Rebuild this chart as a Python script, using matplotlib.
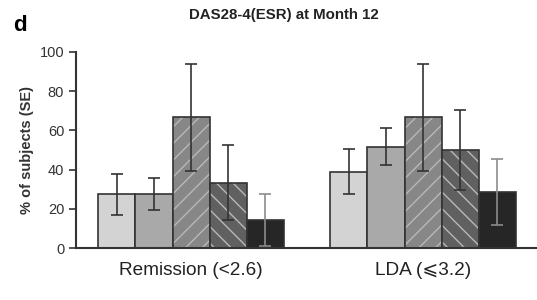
import matplotlib
matplotlib.use("Agg")
import matplotlib.pyplot as plt
import numpy as np

plt.rcParams['font.family'] = ['Liberation Sans', 'DejaVu Sans']
plt.rcParams['hatch.linewidth'] = 1.0

groups = ['Remission (<2.6)', 'LDA (\u2a7d3.2)']
# five treatment arms per group
values = [[27.5, 27.5, 66.7, 33.3, 14.3],
          [38.9, 51.7, 66.7, 50.0, 28.6]]
errors = [[10.5, 8.3, 27.3, 19.2, 13.2],
          [11.5, 9.4, 27.3, 20.5, 17.0]]

colors = ['#d3d3d3', '#a9a9a9', '#878787', '#606060', '#262626']
hatches = [None, None, '//', '\\\\', None]
errcols = ['#333333', '#333333', '#333333', '#333333', '#8c8c8c']

fig = plt.figure(figsize=(5.37, 3.0), dpi=100)
ax = fig.add_axes([0.1415, 0.173, 0.8585, 0.654])

w = 0.16
for g in range(len(groups)):
    for i in range(5):
        x = g + (i - 2) * w
        v = values[g][i]
        if hatches[i]:
            ax.bar(x, v, w, color=colors[i], edgecolor='#b8b8b8', hatch=hatches[i], lw=0)
            ax.bar(x, v, w, fill=False, edgecolor='#333333', lw=1.2)
        else:
            ax.bar(x, v, w, color=colors[i], edgecolor='#333333', lw=1.2)
        ax.errorbar(x, v, yerr=errors[g][i], fmt='none', ecolor=errcols[i],
                    elinewidth=1.2, capsize=4, capthick=1.2)

ax.set_xlim(-0.496, 1.491)
ax.set_ylim(0, 100)
ax.set_yticks([0, 20, 40, 60, 80, 100])
ax.set_xticks([0, 1])
ax.set_xticklabels(groups, fontsize=13.7, color='#222222')
ax.tick_params(axis='x', length=0, pad=10)
ax.tick_params(axis='y', labelsize=10.5, colors='#333333', length=5, width=1.2, direction='out')
for s in ['top', 'right']:
    ax.spines[s].set_visible(False)
for s in ['left', 'bottom']:
    ax.spines[s].set_color('#333333')
    ax.spines[s].set_linewidth(1.5)
ax.set_ylabel('% of subjects (SE)', fontsize=10.5, fontweight='bold', color='#333333')

fig.text(0.529, 0.95, 'DAS28-4(ESR) at Month 12', ha='center', va='center',
         fontsize=10.8, fontweight='bold', color='#222222')
fig.text(0.025, 0.915, 'd', ha='left', va='center', fontsize=16, fontweight='bold')

fig.savefig('out.png', dpi=100)
